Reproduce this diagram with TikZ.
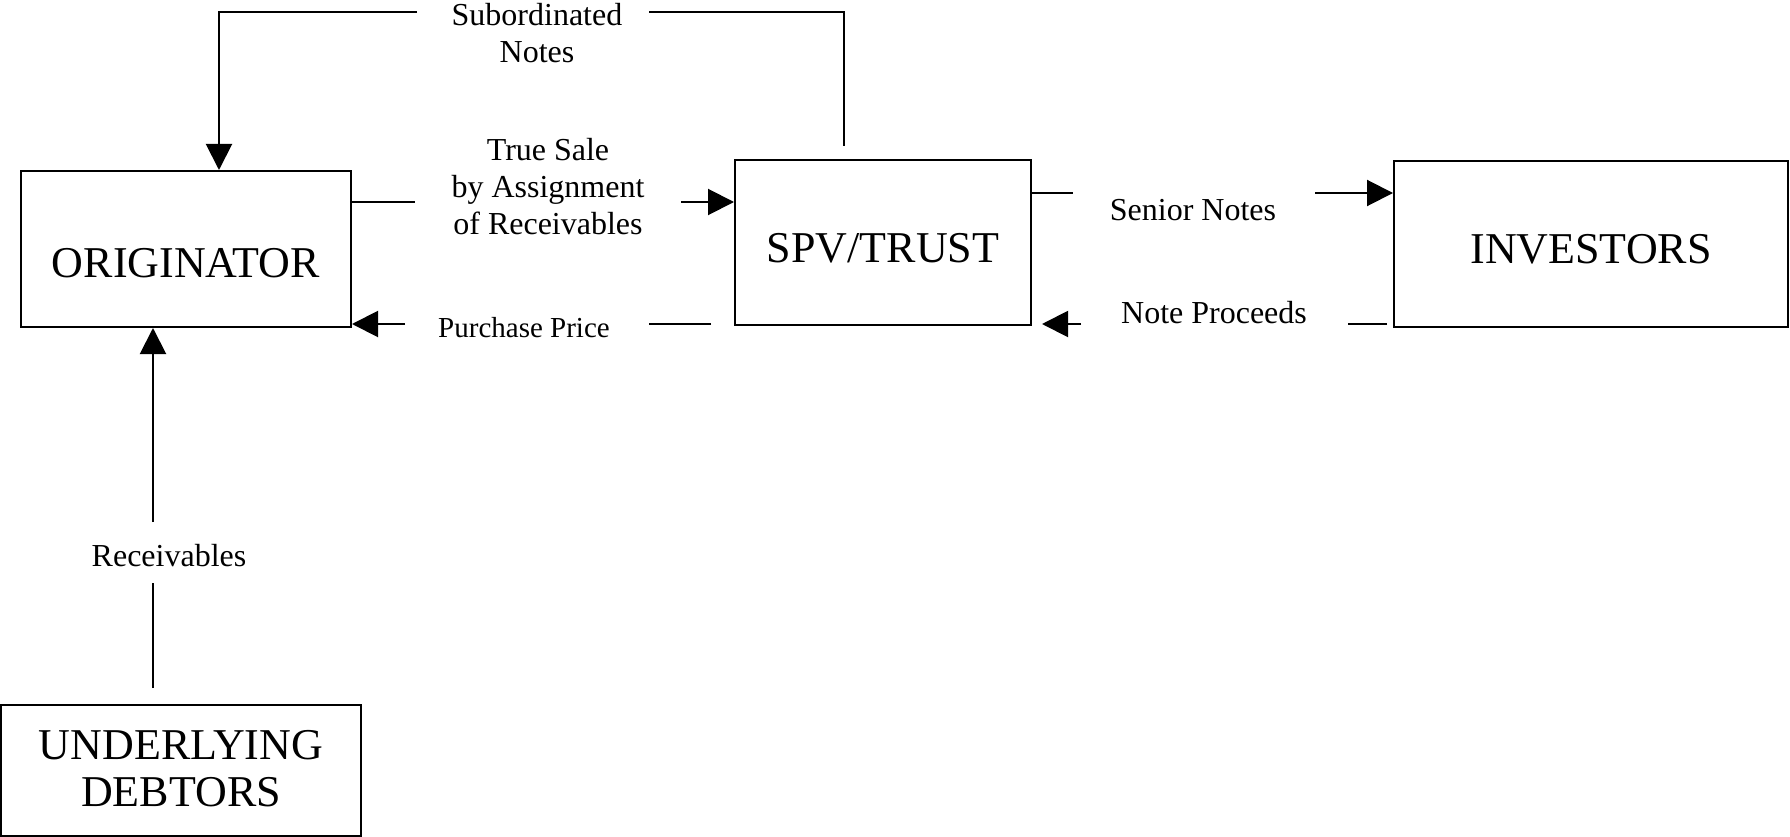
\documentclass[tikz,border=0pt]{standalone}
\usepackage{fontspec}
\setmainfont{Liberation Serif}
\usetikzlibrary{arrows.meta,calc}
\begin{document}
\begin{tikzpicture}[x=1pt,y=-1pt,
  box/.style={draw,line width=2pt,inner sep=0pt},
  boxtext/.style={font=\fontsize{44}{47}\selectfont,align=center,inner sep=0pt},
  lbl/.style={font=\fontsize{32}{37}\selectfont,align=center,inner sep=0pt},
  smalllbl/.style={font=\fontsize{29}{32}\selectfont,align=center,inner sep=0pt},
  ln/.style={line width=2pt},
  arr/.style={line width=2pt,-{Triangle[length=26pt,width=26pt]}}]
\useasboundingbox (0,0) rectangle (1790,837);
% boxes
\node[box,minimum width=330pt,minimum height=156pt,
  label={[boxtext,yshift=-14pt]center:ORIGINATOR}] (orig) at (186,249) {};
\node[box,minimum width=296pt,minimum height=165pt,
  label={[boxtext,yshift=-6pt]center:SPV/TRUST}] (spv) at (883,242.5) {};
\node[box,minimum width=394pt,minimum height=166pt,
  label={[boxtext,yshift=-5pt]center:INVESTORS}] (inv) at (1591,244) {};
\node[box,minimum width=360pt,minimum height=131pt,
  label={[boxtext,yshift=2pt]center:{UNDERLYING\\DEBTORS}}] (und) at (181,770.5) {};
% free ends
\coordinate (sn1) at (844,146);
\coordinate (sn2) at (649,12);
\coordinate (sn3) at (417,12);
\coordinate (ts1) at (415,202);
\coordinate (ts2) at (681,202);
\coordinate (pp1) at (711,324);
\coordinate (pp2) at (649,324);
\coordinate (pp3) at (405,324);
\coordinate (se1) at (1073,193);
\coordinate (se2) at (1315,193);
\coordinate (np1) at (1387,324);
\coordinate (np2) at (1348,324);
\coordinate (np3) at (1081,324);
\coordinate (np4) at (1042,324);
\coordinate (rc1) at (153,688);
\coordinate (rc2) at (153,583);
\coordinate (rc3) at (153,522);
% labels
\node[lbl] (lsub) at (537,33) {Subordinated\\Notes};
\node[lbl] (ltrue) at (548,187) {True Sale\\by Assignment\\of Receivables};
\node[smalllbl] (lpp) at (524,328) {Purchase Price};
\node[lbl] (lsen) at (1193,210) {Senior Notes};
\node[lbl] (lnp) at (1214,313) {Note Proceeds};
\node[lbl] (lrec) at (169,556) {Receivables};
% subordinated notes
\draw[ln] (sn1) |- (sn2);
\draw[arr] (sn3) -| ([xshift=33pt]orig.north);
% true sale
\draw[ln] (orig.east |- ts1) -- (ts1);
\draw[arr] (ts2) -- (spv.west |- ts2);
% purchase price
\draw[ln] (pp1) -- (pp2);
\draw[arr] (pp3) -- (orig.east |- pp3);
% senior notes
\draw[ln] (spv.east |- se1) -- (se1);
\draw[arr] (se2) -- (inv.west |- se2);
% note proceeds
\draw[ln] (np1) -- (np2);
\draw[arr] (np3) -- (np4);
% receivables
\draw[ln] (rc1) -- (rc2);
\draw[arr] (rc3) -- (orig.south -| rc3);
\end{tikzpicture}
\end{document}
